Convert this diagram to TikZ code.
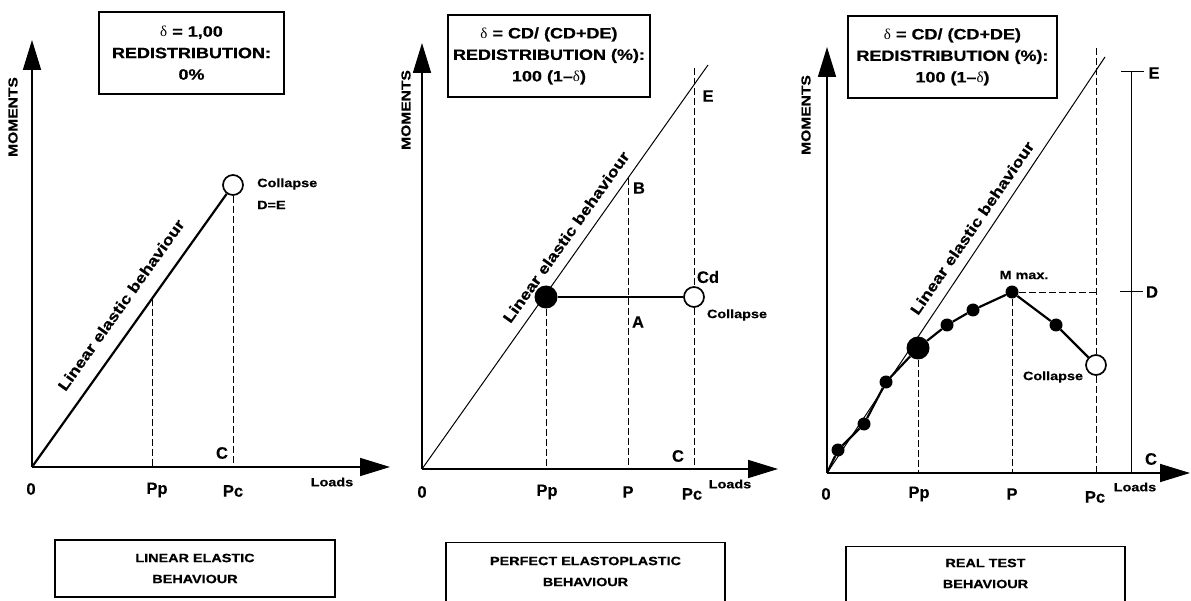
\documentclass[tikz,border=0pt]{standalone}
\usepackage{fontspec}
\setmainfont{Liberation Sans}[FakeStretch=1.2,BoldFeatures={FakeBold=0.6}]
\newfontfamily\plainsans{Liberation Sans}[BoldFeatures={FakeBold=0.4}]
\newfontfamily\grk{Liberation Serif}
\usetikzlibrary{arrows.meta}
\tikzset{
 axis/.style={line width=1.7pt,-{Triangle[length=30pt,width=18pt]}},
 dline/.style={line width=0.8pt,dash pattern=on 7pt off 3pt},
 heavy/.style={line width=2.2pt},
 light/.style={line width=1pt},
 openc/.style={circle,draw,line width=1.7pt,fill=white,inner sep=0pt,minimum size=20pt},
 bigdot/.style={circle,fill=black,inner sep=0pt,minimum size=23pt},
 smalldot/.style={circle,fill=black,inner sep=0pt,minimum size=13pt},
 topbox/.style={draw,line width=1.1pt,minimum height=82pt,align=center,font=\fontsize{15}{21.5}\selectfont\bfseries,inner sep=0pt},
 botbox/.style={draw,line width=1.1pt,inner sep=0pt},
 bottxt/.style={align=center,font=\fontsize{12}{21}\selectfont\bfseries,inner sep=0pt},
 big/.style={font=\plainsans\fontsize{16.5}{18}\selectfont\bfseries,inner sep=0pt},
 small/.style={font=\fontsize{12}{14}\selectfont\bfseries,inner sep=0pt},
 moment/.style={font=\fontsize{13}{14}\selectfont\bfseries,rotate=90,inner sep=0pt},
 slopetxt/.style={font=\fontsize{15}{18}\selectfont\bfseries,inner sep=0pt},
}
\begin{document}
\begin{tikzpicture}[x=1pt,y=-1pt]
\useasboundingbox (0,0) rectangle (1191,601);
% ---------------- Panel 1 ----------------
\coordinate (O1) at (32,467);
\coordinate (Y1) at (32,40);
\coordinate (X1) at (390,467);
\draw[axis] (O1) -- (Y1);
\draw[axis] (O1) -- (X1);
\node[openc] (K1) at (233,185) {};
\draw[heavy] (O1) -- (K1);
\coordinate (B1) at (152,298.6);
\coordinate (Pp1) at (152,467);
\coordinate (Pc1) at (233,467);
\draw[dline] (B1) -- (Pp1);
\draw[dline] (K1) -- (Pc1);
\node[big] (l0a) at (31,489) {0};
\node[big] (lppa) at (157,490) {Pp};
\node[big] (lpca) at (233,491) {Pc};
\node[big] (lca) at (222,453) {C};
\node[small] (lla) at (332,482) {Loads};
\node[small,anchor=west] (colla) at (257,184) {Collapse};
\node[small,anchor=west] (dea) at (257,205) {D=E};
\node[moment] (ma) at (13,117) {MOMENTS};
\node[slopetxt,rotate=54.5] (sa) at (121,305) {Linear elastic behaviour};
\node[topbox,minimum width=185pt] (ta) at (191.5,53) {{\grk\mdseries δ} = 1,00\\REDISTRIBUTION:\\0\%};
\node[botbox,minimum width=280pt,minimum height=57pt] (ba) at (195,568.5) {};
\node[bottxt] (bta) at (195,568.5) {LINEAR ELASTIC\\BEHAVIOUR};
% ---------------- Panel 2 ----------------
\coordinate (O2) at (422,469);
\coordinate (Y2) at (422,43);
\coordinate (X2) at (778,469);
\coordinate (L2) at (708,65);
\draw[axis] (O2) -- (Y2);
\draw[axis] (O2) -- (X2);
\draw[light] (O2) -- (L2);
\node[bigdot] (F2) at (546,297) {};
\node[openc] (K2) at (694,297) {};
\draw[heavy] (F2) -- (K2);
\coordinate (Pp2) at (546,469);
\coordinate (B2) at (628,178);
\coordinate (P2) at (628,469);
\coordinate (T2) at (694,68);
\coordinate (Pc2) at (694,469);
\draw[dline] (F2) -- (Pp2);
\draw[dline] (B2) -- (P2);
\draw[dline] (T2) -- (K2);
\draw[dline] (K2) -- (Pc2);
\node[big] (le2) at (708,96) {E};
\node[big] (lb2) at (639,188) {B};
\node[big] (lcd2) at (708,277) {Cd};
\node[big] (la2) at (638,322) {A};
\node[small] (coll2) at (737,315) {Collapse};
\node[big] (lc2) at (678,456) {C};
\node[big] (l02) at (422,492) {0};
\node[big] (lpp2) at (547,492) {Pp};
\node[big] (lp2) at (628,492) {P};
\node[big] (lpc2) at (692,494) {Pc};
\node[small] (ll2) at (730,484) {Loads};
\node[moment] (m2) at (406,110) {MOMENTS};
\node[slopetxt,rotate=54.5] (s2) at (566,237) {Linear elastic behaviour};
\node[topbox,minimum width=202pt] (t2) at (549,56) {{\grk\mdseries δ} = CD/ (CD+DE)\\REDISTRIBUTION (\%):\\100 (1–{\grk\mdseries δ})};
\node[botbox,minimum width=279pt,minimum height=70pt,anchor=north] (b2) at (585.5,542) {};
\node[bottxt] (bt2) at (585.5,571.5) {PERFECT ELASTOPLASTIC\\BEHAVIOUR};
% ---------------- Panel 3 ----------------
\coordinate (O3) at (827,473);
\coordinate (Y3) at (827,47);
\coordinate (X3) at (1190,473);
\coordinate (L3) at (1105,57);
\draw[axis] (O3) -- (Y3);
\draw[axis] (O3) -- (X3);
\draw[light] (O3) -- (L3);
\node[smalldot] (D1) at (838,450) {};
\node[smalldot] (D2) at (864,424) {};
\node[smalldot] (D3) at (886,382) {};
\node[bigdot] (G3) at (918,348) {};
\node[smalldot] (D5) at (947,325) {};
\node[smalldot] (D6) at (973,310) {};
\node[smalldot] (M3) at (1012,292) {};
\node[smalldot] (D8) at (1056,325) {};
\node[openc] (K3) at (1096,365) {};
\draw[heavy] (O3) -- (D1) -- (D2) -- (D3) -- (G3) -- (D5) -- (D6) -- (M3) -- (D8) -- (K3);
\coordinate (Pp3) at (918,473);
\coordinate (P3) at (1012,473);
\coordinate (T3) at (1096,48);
\coordinate (Pc3) at (1096,473);
\coordinate (H3) at (1096,292);
\draw[dline] (G3) -- (Pp3);
\draw[dline] (M3) -- (P3);
\draw[dline] (T3) -- (K3);
\draw[dline] (K3) -- (Pc3);
\draw[dline] (M3) -- (H3);
\coordinate (SE) at (1131,72);
\coordinate (SC) at (1131,473);
\coordinate (TE1) at (1121,72);
\coordinate (TE2) at (1144,72);
\coordinate (TD1) at (1120,292);
\coordinate (TD2) at (1143,292);
\draw[light] (SE) -- (SC);
\draw[light] (TE1) -- (TE2);
\draw[light] (TD1) -- (TD2);
\node[big] (le3) at (1154,73) {E};
\node[big] (ld3) at (1152,292) {D};
\node[big] (lc3) at (1151,459) {C};
\node[small] (mm3) at (1024,275) {M max.};
\node[small] (coll3) at (1053,377) {Collapse};
\node[big] (l03) at (826,494) {0};
\node[big] (lpp3) at (919,494) {Pp};
\node[big] (lp3) at (1012,494) {P};
\node[big] (lpc3) at (1095,497) {Pc};
\node[small] (ll3) at (1135,487) {Loads};
\node[moment] (m3) at (806,115) {MOMENTS};
\node[slopetxt,rotate=55.5] (s3) at (972,228) {Linear elastic behaviour};
\node[topbox,minimum width=209pt] (t3) at (952.5,57) {{\grk\mdseries δ} = CD/ (CD+DE)\\REDISTRIBUTION (\%):\\100 (1–{\grk\mdseries δ})};
\node[botbox,minimum width=279pt,minimum height=70pt,anchor=north] (b3) at (985.5,546) {};
\node[bottxt] (bt3) at (985.5,573.5) {REAL TEST\\BEHAVIOUR};
\end{tikzpicture}
\end{document}
